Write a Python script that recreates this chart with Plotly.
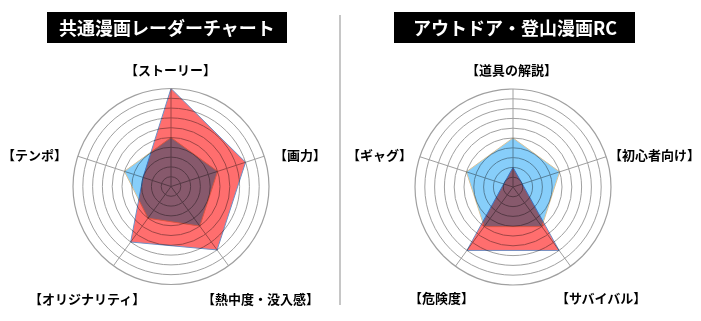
import plotly.graph_objects as go

W, H = 701, 321

# ---- data ----
left_title = "共通漫画レーダーチャート"
left_categories = ["【ストーリー】", "【画力】", "【熱中度・没入感】", "【オリジナリティ】", "【テンポ】"]
left_red = [10, 8, 8, 7, 3]
left_blue = [5, 5, 5, 4, 5]

right_title = "アウトドア・登山漫画RC"
right_categories = ["【道具の解説】", "【初心者向け】", "【サバイバル】", "【危険度】", "【ギャグ】"]
right_red = [2, 1, 8, 8, 1]
right_blue = [5, 5, 5, 5, 5]

r_max = 10

# ---- styling / layout constants ----
BLUE_FILL = "#87CEFA"
BLUE_LINE = "#D9C39A"
RED_FILL = "#FF6E6E"
RED_LINE = "#6F8FC4"
GRID = "#A0A0A0"
FONT = "Noto Sans CJK JP"

centers = [(171, 186.5), (513, 187)]   # pixel centres of the two radars
radius = 98
# label centres (pixels) for each category of each chart
label_pos = [
    [(170, 69), (300, 155), (260, 298), (87, 298), (34, 155)],
    [(511, 69), (654, 154), (601, 297), (441, 297), (379, 155)],
]
title_boxes = [(47, 12, 287, 43), (394, 12, 635, 43)]


def px(x):
    return x / W


def py(y):
    return 1 - y / H


def closed(seq):
    return list(seq) + [seq[0]]


fig = go.Figure()

charts = [
    ("polar", left_categories, left_red, left_blue),
    ("polar2", right_categories, right_red, right_blue),
]

for sub, cats, red, blue in charts:
    fig.add_trace(go.Scatterpolar(
        r=closed(blue), theta=closed(cats), subplot=sub, mode="lines",
        fill="toself", fillcolor=BLUE_FILL, line=dict(color=BLUE_LINE, width=1),
        hoverinfo="skip", showlegend=False))
    fig.add_trace(go.Scatterpolar(
        r=closed(red), theta=closed(cats), subplot=sub, mode="lines",
        fill="toself", fillcolor=RED_FILL, line=dict(color=RED_LINE, width=1),
        hoverinfo="skip", showlegend=False))


def polar_layout(cx, cy, cats):
    return dict(
        domain=dict(x=[px(cx - radius), px(cx + radius)],
                    y=[py(cy + radius), py(cy - radius)]),
        bgcolor="white",
        hole=0,
        radialaxis=dict(range=[0, r_max], tickmode="linear", tick0=0, dtick=1,
                        showticklabels=False, ticks="", showline=False,
                        gridcolor=GRID, gridwidth=1.2, layer="below traces"),
        angularaxis=dict(type="category", categoryarray=cats, rotation=90,
                         direction="clockwise", showticklabels=False, ticks="",
                         gridcolor=GRID, gridwidth=1.2, showline=True,
                         linecolor=GRID, linewidth=1.2, layer="below traces"),
    )


annotations = []
shapes = []
for (cx, cy), cats, lp in zip(centers, [left_categories, right_categories], label_pos):
    for name, (lx, ly) in zip(cats, lp):
        annotations.append(dict(
            x=px(lx), y=py(ly), xref="paper", yref="paper", text=name,
            showarrow=False, xanchor="center", yanchor="middle",
            font=dict(family=FONT, size=13, color="black", weight="bold")))

for (x0, y0, x1, y1), title in zip(title_boxes, [left_title, right_title]):
    shapes.append(dict(type="rect", xref="paper", yref="paper",
                       x0=px(x0), x1=px(x1), y0=py(y1), y1=py(y0),
                       fillcolor="black", line=dict(width=0), layer="above"))
    annotations.append(dict(
        x=px((x0 + x1) / 2), y=py((y0 + y1) / 2), xref="paper", yref="paper",
        text=title, showarrow=False, xanchor="center", yanchor="middle",
        font=dict(family=FONT, size=18, color="white", weight="bold")))

# divider
shapes.append(dict(type="line", xref="paper", yref="paper",
                   x0=px(340), x1=px(340), y0=py(15), y1=py(305),
                   line=dict(color="rgba(0,0,0,0.45)", width=1)))

fig.update_layout(
    width=W, height=H,
    margin=dict(l=0, r=0, t=0, b=0),
    paper_bgcolor="white",
    plot_bgcolor="white",
    polar=polar_layout(*centers[0], left_categories),
    polar2=polar_layout(*centers[1], right_categories),
    annotations=annotations,
    shapes=shapes,
    showlegend=False,
)

post = """
var gd = document.getElementById('{plot_id}');
function blend(){
  gd.querySelectorAll('path.js-fill').forEach(function(p){
    var el = p;
    while (el && el.tagName && el.tagName.toLowerCase() !== 'svg') {
      el.style.mixBlendMode = 'multiply';
      el = el.parentNode;
    }
  });
}
blend();
if (gd.on) { gd.on('plotly_afterplot', blend); }
"""

fig.write_html("out.html", post_script=post, config=dict(displayModeBar=False))
